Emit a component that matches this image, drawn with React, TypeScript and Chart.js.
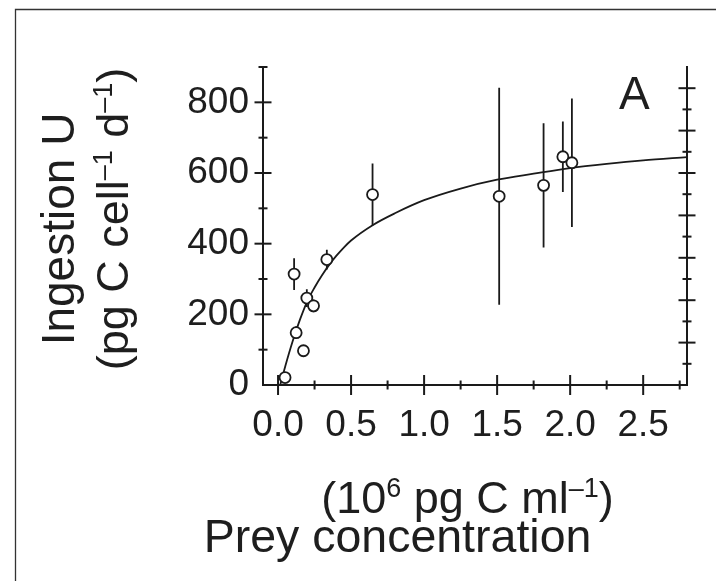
import React, { useEffect, useRef } from "react";
import { Chart, registerables } from "chart.js";

Chart.register(...registerables);

// ---- data ----
const preyConc = [0.048, 0.11, 0.124, 0.174, 0.197, 0.243, 0.334, 0.647, 1.514, 1.818, 1.95, 2.012];
const ingestion = [21, 314, 148, 97, 246, 224, 355, 539, 534, 565, 646, 629];
const ingestionErr = [0, 45, 18, 0, 25, 18, 28, 88, 307, 176, 100, 182];

const fitX = [0.015, 0.05, 0.1, 0.15, 0.2, 0.25, 0.3, 0.35, 0.4, 0.45, 0.5, 0.65, 0.8, 1.0, 1.25, 1.5, 1.75, 2.0, 2.25, 2.5, 2.8];
const fitY = [0, 54, 124, 185, 237, 276, 310, 340, 366, 389, 409, 453, 486, 523, 556, 581, 598, 614, 626, 636, 645];

const xTicks = [0, 0.5, 1, 1.5, 2, 2.5];
const xMinorTicks = [0.25, 0.75, 1.25, 1.75, 2.25, 2.75];
const yTicks = [0, 200, 400, 600, 800];
const yMinorTicks = [100, 300, 500, 700, 900];
const rightMajorTicks = [2, 4, 6, 8, 10, 12, 14];
const rightMinorTicks = [1, 3, 5, 7, 9, 11, 13];

const panelLabel = "A";
const yTitle1 = "Ingestion U";
const yTitle2 = [
  { t: "(pg C cell", sup: false },
  { t: "–1", sup: true },
  { t: " d", sup: false },
  { t: "–1", sup: true },
  { t: ")", sup: false },
];
const xTitle1 = [
  { t: "(10", sup: false },
  { t: "6", sup: true },
  { t: " pg C ml", sup: false },
  { t: "–1", sup: true },
  { t: ")", sup: false },
];
const xTitle2 = "Prey concentration";

const INK = "#1a1a1a";
const TEXT = "#1e1e1e";
const FAMILY = "'Liberation Sans', Arial, Helvetica, sans-serif";

function fontStr(size: number) {
  return `${size}px ${FAMILY}`;
}

function drawRich(
  ctx: CanvasRenderingContext2D,
  segs: { t: string; sup: boolean }[],
  size: number,
  cx: number,
  baseline: number,
  rotate: boolean
) {
  const supSize = size * 0.6;
  const widths = segs.map((s) => {
    ctx.font = fontStr(s.sup ? supSize : size);
    return ctx.measureText(s.t).width;
  });
  const total = widths.reduce((a, b) => a + b, 0);
  ctx.save();
  ctx.translate(cx, baseline);
  if (rotate) ctx.rotate(-Math.PI / 2);
  ctx.textAlign = "left";
  ctx.textBaseline = "alphabetic";
  ctx.fillStyle = TEXT;
  let xx = -total / 2;
  segs.forEach((s, i) => {
    ctx.font = fontStr(s.sup ? supSize : size);
    ctx.fillText(s.t, xx, s.sup ? -size * 0.36 : 0);
    xx += widths[i];
  });
  ctx.restore();
}

const framePlugin = {
  id: "frame",
  beforeDraw(chart: any) {
    const ctx = chart.ctx as CanvasRenderingContext2D;
    ctx.save();
    ctx.strokeStyle = "#333";
    ctx.lineWidth = 1.3;
    ctx.beginPath();
    ctx.moveTo(15.5, chart.height);
    ctx.lineTo(15.5, 9.5);
    ctx.lineTo(chart.width, 9.5);
    ctx.stroke();
    ctx.restore();
  },
};

const crossTickPlugin = {
  id: "crossTicks",
  beforeDatasetsDraw(chart: any) {
    const ctx = chart.ctx as CanvasRenderingContext2D;
    const { x, y, y2 } = chart.scales;
    ctx.save();
    ctx.strokeStyle = INK;
    ctx.lineWidth = 2;
    const seg = (x1: number, y1: number, x2: number, y2_: number) => {
      ctx.beginPath();
      ctx.moveTo(x1, y1);
      ctx.lineTo(x2, y2_);
      ctx.stroke();
    };
    xTicks.forEach((v) => {
      const p = x.getPixelForValue(v);
      seg(p, x.top - 10, p, x.top + 10);
    });
    xMinorTicks.forEach((v) => {
      const p = x.getPixelForValue(v);
      seg(p, x.top - 4.5, p, x.top + 4.5);
    });
    yTicks.forEach((v) => {
      if (v === 0) return;
      const p = y.getPixelForValue(v);
      seg(y.right - 8.5, p, y.right + 8.5, p);
    });
    yMinorTicks.forEach((v) => {
      const p = y.getPixelForValue(v);
      seg(y.right - 4.5, p, y.right + 4.5, p);
    });
    rightMajorTicks.forEach((v) => {
      const p = y2.getPixelForValue(v);
      seg(y2.left - 8.5, p, y2.left + 8.5, p);
    });
    rightMinorTicks.forEach((v) => {
      const p = y2.getPixelForValue(v);
      seg(y2.left - 4.5, p, y2.left + 4.5, p);
    });
    ctx.restore();
  },
};

const textPlugin = {
  id: "titles",
  afterDraw(chart: any) {
    const ctx = chart.ctx as CanvasRenderingContext2D;
    const area = chart.chartArea;
    ctx.save();
    ctx.fillStyle = TEXT;
    // y title line 1
    drawRich(ctx, [{ t: yTitle1, sup: false }], 46, 74, area.top + 162, true);
    // y title line 2
    drawRich(ctx, yTitle2, 45, 128, area.top + 152, true);
    // x title line 1
    drawRich(ctx, xTitle1, 45, 467.5, area.bottom + 128, false);
    // x title line 2
    drawRich(ctx, [{ t: xTitle2, sup: false }], 46.5, 397.5, area.bottom + 167, false);
    // panel label
    ctx.font = fontStr(46);
    ctx.textAlign = "left";
    ctx.textBaseline = "alphabetic";
    ctx.fillText(panelLabel, 619, area.top + 42);
    ctx.restore();
  },
};

export default function App() {
  const canvasRef = useRef<HTMLCanvasElement | null>(null);

  useEffect(() => {
    const canvas = canvasRef.current;
    if (!canvas) return;

    const points = preyConc.map((v, i) => ({ x: v, y: ingestion[i] }));
    const fit = fitX.map((v, i) => ({ x: v, y: fitY[i] }));
    const errSegs: { x: number; y: number | null }[] = [];
    preyConc.forEach((v, i) => {
      const e = ingestionErr[i];
      if (e > 0) {
        errSegs.push({ x: v, y: ingestion[i] - e });
        errSegs.push({ x: v, y: ingestion[i] + e });
        errSegs.push({ x: v, y: null });
      }
    });

    const chart = new Chart(canvas, {
      type: "scatter",
      data: {
        datasets: [
          {
            type: "scatter",
            label: "Ingestion",
            data: points,
            pointRadius: 5.5,
            pointBackgroundColor: "#ffffff",
            pointBorderColor: INK,
            pointBorderWidth: 1.8,
            order: 0,
          } as any,
          {
            type: "line",
            label: "Fit",
            data: fit,
            borderColor: INK,
            borderWidth: 1.8,
            pointRadius: 0,
            cubicInterpolationMode: "monotone",
            fill: false,
            order: 1,
          } as any,
          {
            type: "line",
            label: "SD",
            data: errSegs,
            borderColor: INK,
            borderWidth: 1.8,
            pointRadius: 0,
            spanGaps: false,
            fill: false,
            order: 2,
          } as any,
        ],
      },
      options: {
        responsive: false,
        animation: false,
        events: [],
        layout: { padding: { top: 67, left: 0, right: 0, bottom: 0 } },
        plugins: {
          legend: { display: false },
          tooltip: { enabled: false },
        },
        scales: {
          x: {
            type: "linear",
            position: "bottom",
            min: -0.103,
            max: 2.8,
            afterBuildTicks: (s: any) => {
              s.ticks = xTicks.map((v) => ({ value: v }));
            },
            afterFit: (s: any) => {
              s.height = 196;
            },
            ticks: {
              callback: (v: any) => Number(v).toFixed(1),
              font: { size: 37, family: FAMILY },
              color: TEXT,
              padding: 19,
              maxRotation: 0,
              minRotation: 0,
              autoSkip: false,
            },
            grid: { display: false, drawTicks: false },
            border: { display: true, color: INK, width: 2 },
          },
          y: {
            type: "linear",
            position: "left",
            min: 0,
            max: 900,
            afterBuildTicks: (s: any) => {
              s.ticks = yTicks.map((v) => ({ value: v }));
            },
            afterFit: (s: any) => {
              s.width = 263;
            },
            ticks: {
              callback: (v: any) => String(v),
              font: { size: 37, family: FAMILY },
              color: TEXT,
              padding: 14,
              autoSkip: false,
            },
            grid: { display: false, drawTicks: false },
            border: { display: true, color: INK, width: 2 },
          },
          y2: {
            type: "linear",
            position: "right",
            min: 0,
            max: 15,
            afterFit: (s: any) => {
              s.width = 29;
            },
            ticks: { display: false },
            grid: { display: false, drawTicks: false },
            border: { display: true, color: INK, width: 2 },
          },
        },
      } as any,
      plugins: [framePlugin, crossTickPlugin, textPlugin],
    });

    return () => {
      chart.destroy();
    };
  }, []);

  return (
    <div
      style={{
        position: "fixed",
        left: 0,
        top: 0,
        width: 716,
        height: 581,
        overflow: "hidden",
        background: "#ffffff",
      }}
    >
      <canvas ref={canvasRef} width={716} height={581} style={{ display: "block" }} />
    </div>
  );
}
